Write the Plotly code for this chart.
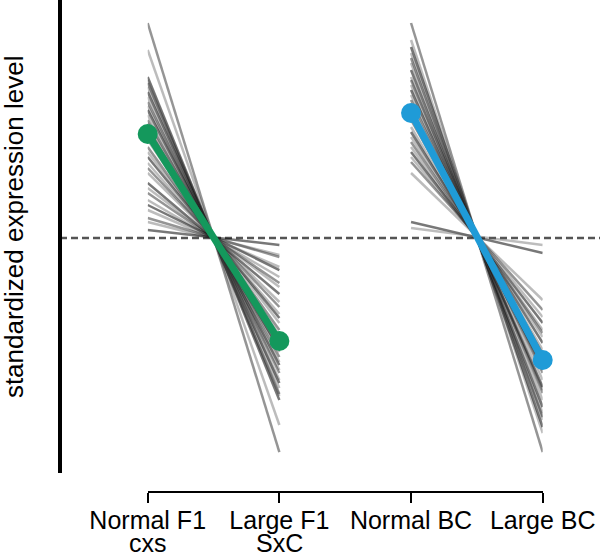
import plotly.graph_objects as go

# ---- data -------------------------------------------------------------
tick_positions = [0, 1, 2, 3]
tick_labels = ["Normal F1", "Large F1", "Normal BC", "Large BC"]
sub_labels = ["cxs", "SxC"]

# F1 genes: standardized expression at Normal F1 (x=0) and Large F1 (x=1)
f1_normal = [2.15, 1.88, 1.61, 1.58, 1.55, 1.51, 1.46, 1.41, 1.36, 1.32,
             1.28, 1.23, 1.18, 1.15, 1.10, 0.98, 0.91, 0.86, 0.81, 0.75,
             0.70, 0.65, 0.55, 0.50, 0.45, 0.38, 0.33, 0.28, 0.20, 0.16, 0.08]
f1_large = [-2.14, -1.87, -1.62, -1.58, -1.56, -1.50, -1.45, -1.42, -1.35, -1.32,
            -1.27, -1.24, -1.19, -1.14, -1.11, -0.97, -0.92, -0.85, -0.80, -0.76,
            -0.69, -0.64, -0.56, -0.49, -0.45, -0.39, -0.32, -0.29, -0.19, -0.17, -0.07]
f1_mean = [1.04, -1.03]

# BC genes: Normal BC (x=2) and Large BC (x=3)
bc_normal = [2.15, 1.98, 1.91, 1.85, 1.80, 1.75, 1.68, 1.61, 1.58, 1.53,
             1.48, 1.43, 1.38, 1.33, 1.28, 1.22, 1.18, 1.11, 1.06, 1.01,
             0.96, 0.91, 0.86, 0.81, 0.76, 0.65, 0.16, 0.10]
bc_large = [-2.14, -1.95, -1.89, -1.82, -1.79, -1.75, -1.69, -1.62, -1.55, -1.52,
            -1.49, -1.42, -1.35, -1.32, -1.29, -1.19, -1.16, -1.12, -1.05, -0.99,
            -0.95, -0.92, -0.85, -0.79, -0.72, -0.62, -0.15, -0.07]
bc_mean = [1.25, -1.22]

# ---- styles -----------------------------------------------------------
GRAYS = ["rgba(20,20,20,0.45)", "rgba(60,60,60,0.34)", "rgba(10,10,10,0.55)",
         "rgba(90,90,90,0.40)"]
GREEN = "#14985c"
BLUE = "#1f9bd7"
FONT = "Liberation Sans, Arial, Helvetica, sans-serif"

fig = go.Figure()

for i, (a, b) in enumerate(zip(f1_normal, f1_large)):
    fig.add_trace(go.Scatter(x=[tick_positions[0], tick_positions[1]], y=[a, b],
                             mode="lines", line=dict(color=GRAYS[i % len(GRAYS)], width=2.5),
                             hoverinfo="skip", showlegend=False))
for i, (a, b) in enumerate(zip(bc_normal, bc_large)):
    fig.add_trace(go.Scatter(x=[tick_positions[2], tick_positions[3]], y=[a, b],
                             mode="lines", line=dict(color=GRAYS[i % len(GRAYS)], width=2.5),
                             hoverinfo="skip", showlegend=False))

fig.add_trace(go.Scatter(x=[tick_positions[0], tick_positions[1]], y=f1_mean,
                         mode="lines+markers", line=dict(color=GREEN, width=7),
                         marker=dict(color=GREEN, size=20), cliponaxis=False,
                         showlegend=False))
fig.add_trace(go.Scatter(x=[tick_positions[2], tick_positions[3]], y=bc_mean,
                         mode="lines+markers", line=dict(color=BLUE, width=7),
                         marker=dict(color=BLUE, size=20), cliponaxis=False,
                         showlegend=False))

# dashed zero line across the whole panel
fig.add_shape(type="line", xref="paper", x0=0, x1=1, yref="y", y0=0, y1=0,
              line=dict(color="#555555", width=2.5, dash="7px,4px"), layer="below")

# second row of the first two category labels
for xv, txt in zip(tick_positions[:2], sub_labels):
    fig.add_annotation(x=xv, xref="x", y=-0.104, yref="paper", text=txt,
                       showarrow=False, xanchor="center", yanchor="middle",
                       font=dict(size=25, color="black", family=FONT))

# y axis title
fig.add_annotation(x=-0.085, xref="paper", y=0.5386, yref="paper",
                   text="standardized expression level", textangle=-90,
                   showarrow=False, xanchor="center", yanchor="middle",
                   font=dict(size=26, color="black", family=FONT))

fig.update_layout(
    width=600, height=554,
    margin=dict(l=60, r=0, t=0, b=62, autoexpand=False),
    paper_bgcolor="white", plot_bgcolor="white",
    font=dict(family=FONT, color="black", size=25),
    xaxis=dict(domain=[0.1624, 0.8939], range=[0, 3], anchor="free", position=0,
               showline=True, linecolor="black", linewidth=2,
               ticks="outside", ticklen=10, tickwidth=2, tickcolor="black",
               tickvals=tick_positions, ticktext=tick_labels, automargin=False,
               ticklabelstandoff=-4,
               showgrid=False, zeroline=False, tickfont=dict(size=25)),
    yaxis=dict(domain=[0.0386, 1], range=[-2.35, 2.38], anchor="free", position=0,
               showline=True, linecolor="black", linewidth=4, automargin=False,
               showticklabels=False, ticks="", showgrid=False, zeroline=False),
)

fig.write_html("out.html", config={"displayModeBar": False},
               post_script="document.body.style.margin='0';document.body.style.overflow='hidden';")
